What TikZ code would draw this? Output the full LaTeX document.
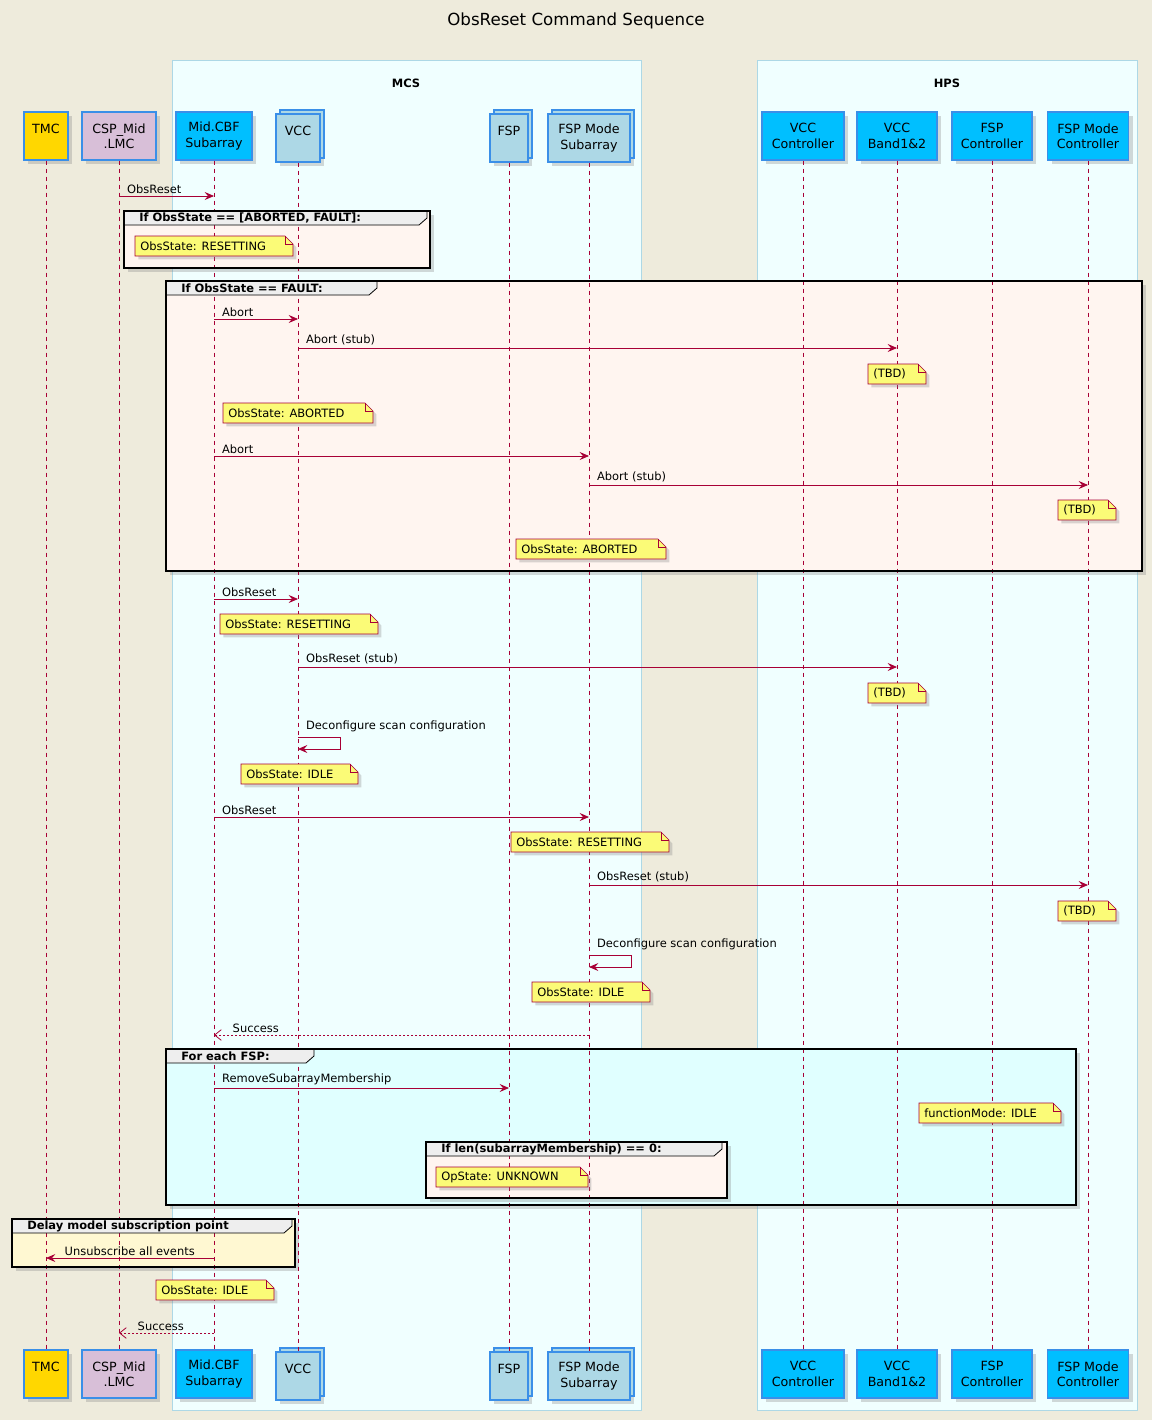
\documentclass[tikz,border=0pt]{standalone}
\usepackage{fontspec}
\setmainfont{DejaVu Sans}
\usetikzlibrary{arrows.meta,shadows}
\definecolor{bgcol}{HTML}{EEEBDC}
\definecolor{boxfill}{HTML}{F0FFFF}
\definecolor{boxline}{HTML}{ADD8E6}
\definecolor{msgcol}{HTML}{A80036}
\definecolor{notefill}{HTML}{FBFB77}
\definecolor{partline}{HTML}{3A8FE8}
\definecolor{iffill}{HTML}{FFF5F0}
\definecolor{eachfill}{HTML}{E0FFFF}
\definecolor{delayfill}{HTML}{FFF8D2}
\definecolor{tabfill}{HTML}{EEEEEE}
\definecolor{lightblue}{HTML}{ADD8E6}
\definecolor{deepsky}{HTML}{00BFFF}
\definecolor{tmcgold}{HTML}{FFD700}
\definecolor{thistle}{HTML}{D8BFD8}

\tikzset{
  part/.style={draw=partline,line width=0.9pt,minimum height=36pt,inner sep=1pt,align=center,
    font=\fontsize{9.5}{11.5}\selectfont,drop shadow={opacity=0.3,shadow xshift=3pt,shadow yshift=-3pt}},
  coll/.style={part,fill=lightblue,copy shadow={shadow xshift=3pt,shadow yshift=3pt}},
  life/.style={msgcol,dash pattern=on 3pt off 3pt,line width=0.5pt},
  msg/.style={msgcol,line width=0.6pt,-{Stealth[length=7pt,width=6pt,inset=2.5pt]}},
  reply/.style={msgcol,line width=0.6pt,dash pattern=on 1.5pt off 1.5pt,-{Straight Barb[length=5pt,width=8pt]}},
  lbl/.style={text=black,font=\fontsize{8.6}{10}\selectfont,inner sep=0.75pt},
  note/.style={draw=msgcol,fill=notefill,line width=0.5pt,drop shadow={opacity=0.3,shadow xshift=2.5pt,shadow yshift=-2.5pt}},
  grp/.style={draw=black,line width=1.3pt,drop shadow={opacity=0.3,shadow xshift=3pt,shadow yshift=-3pt}},
  grptab/.style={draw=black,fill=tabfill,line width=0.6pt},
}

\newcounter{lblc}
% message left to right, label near the start
\newcommand\msgr[4]{\stepcounter{lblc}%
  \draw[msg] (#1|-0,#3) node[lbl,anchor=south west,xshift=5pt,yshift=1pt] (m\thelblc) {#4} -- (#2|-0,#3);}
% message right to left, label near the head
\newcommand\msgl[5][msg]{\stepcounter{lblc}%
  \draw[#1] (#2|-0,#4) -- (#3|-0,#4) node[lbl,anchor=south west,xshift=13pt,yshift=1pt] (m\thelblc) {#5};}
% self message
\newcommand\msgself[4]{\stepcounter{lblc}%
  \draw[msg] (#1|-0,#2) node[lbl,anchor=south west,xshift=5pt,yshift=3pt] (m\thelblc) {#4}
    -- ++(42,0) -- ++(0,#3-#2) -- (#1|-0,#3);}
% note: name, x1, y1, x2, y2, text
\newcommand\note[6]{%
  \draw[note] (#2,#3) -- (#4-8,#3) -- (#4,#3+8) -- (#4,#5) -- (#2,#5) -- cycle;
  \draw[msgcol,line width=0.5pt] (#4-8,#3) -- (#4-8,#3+8) -- (#4,#3+8);
  \node[lbl,anchor=west] (#1) at (#2+4,{(#3+#5)/2}) {#6};}
% group frame: x1, y1, x2, y2, fill
\newcommand\grp[5]{\draw[grp,fill=#5] (#1,#2) rectangle (#3,#4);}
% group tab: name, x1, y1, x2, y2, label, tab width
\newcommand\grptab[7]{%
  \draw[grptab] (#2,#3) -- (#2+#7,#3) -- (#2+#7,#3+7) -- (#2+#7-8,#3+14) -- (#2,#3+14) -- cycle;
  \draw[black,line width=1.3pt] (#2,#3) rectangle (#4,#5);
  \node[lbl,font=\fontsize{8.6}{10}\selectfont\bfseries,anchor=west] (#1) at (#2+14,#3+7) {#6};}

\begin{document}
\begin{tikzpicture}[x=0.75pt,y=0.75pt,yscale=-1,xscale=1]
\useasboundingbox[fill=bgcol] (0,0) rectangle (1152,1420);
\node[font=\fontsize{12.5}{14}\selectfont] (title) at (576,21) {ObsReset Command Sequence};

% boxes
\draw[boxline,fill=boxfill] (172,60) rectangle (641,1410);
\draw[boxline,fill=boxfill] (757,60) rectangle (1137,1410);
\node[lbl,font=\fontsize{8.6}{10}\selectfont\bfseries] (mcs) at (406,83) {MCS};
\node[lbl,font=\fontsize{8.6}{10}\selectfont\bfseries] (hps) at (947,83) {HPS};

% participants top and bottom
\foreach \nm/\yy in {/136,B/1374}{
  \node[part,fill=tmcgold,minimum width=33pt] (tmc\nm) at (46,\yy) {TMC\\\mbox{}};
  \node[part,fill=thistle,minimum width=55.5pt] (csp\nm) at (119,\yy) {CSP\_Mid\\.LMC};
  \node[part,fill=deepsky,minimum width=57pt] (mid\nm) at (214,\yy) {Mid.CBF\\Subarray};
  \node[coll,minimum width=33pt] (vcc\nm) at (298,\yy+2) {VCC\\\mbox{}};
  \node[coll,minimum width=28.5pt] (fsp\nm) at (509,\yy+2) {FSP\\\mbox{}};
  \node[coll,minimum width=61.5pt] (fspm\nm) at (589,\yy+2) {FSP Mode\\Subarray};
  \node[part,fill=deepsky,minimum width=61.5pt] (vccc\nm) at (803,\yy) {VCC\\Controller};
  \node[part,fill=deepsky,minimum width=60pt] (vccb\nm) at (897,\yy) {VCC\\Band1\&2};
  \node[part,fill=deepsky,minimum width=60pt] (fspc\nm) at (992,\yy) {FSP\\Controller};
  \node[part,fill=deepsky,minimum width=60.75pt] (fspmc\nm) at (1088,\yy) {FSP Mode\\Controller};
}

% group frames
\grp{124}{211}{430}{268}{iffill}
\grp{166}{281}{1142}{571}{iffill}
\grp{166}{1049}{1076}{1205}{eachfill}
\grp{426}{1142}{727}{1198}{iffill}
\grp{12}{1219}{295}{1267}{delayfill}

% lifelines
\foreach \p in {tmc,csp,mid,vcc,fsp,fspm,vccc,vccb,fspc,fspmc}
  \draw[life] (\p) -- (\p B);

% group tabs
\grptab{g1}{124}{211}{430}{268}{If ObsState == [ABORTED, FAULT]:}{303}
\grptab{g2}{166}{281}{1142}{571}{If ObsState == FAULT:}{211}
\grptab{g3}{166}{1049}{1076}{1205}{For each FSP:}{148}
\grptab{g4}{426}{1142}{727}{1198}{If len(subarrayMembership) == 0:}{296}
\grptab{g5}{12}{1219}{295}{1267}{Delay model subscription point}{280}

\msgr{csp}{mid}{196}{ObsReset}
\note{n1}{135}{236}{293}{256}{ObsState: RESETTING}

\msgr{mid}{vcc}{319}{Abort}
\msgr{vcc}{vccb}{348}{Abort (stub)}
\note{n2}{868}{364}{926}{384}{(TBD)}
\note{n3}{223}{403}{373}{423}{ObsState: ABORTED}
\msgr{mid}{fspm}{456}{Abort}
\msgr{fspm}{fspmc}{485}{Abort (stub)}
\note{n4}{1058}{500}{1116}{520}{(TBD)}
\note{n5}{516}{539}{666}{559}{ObsState: ABORTED}

\msgr{mid}{vcc}{599}{ObsReset}
\note{n6}{220}{614}{378}{634}{ObsState: RESETTING}
\msgr{vcc}{vccb}{667}{ObsReset (stub)}
\note{n7}{868}{683}{926}{703}{(TBD)}
\msgself{vcc}{737}{749}{Deconfigure scan configuration}
\note{n8}{241}{764}{358}{784}{ObsState: IDLE}
\msgr{mid}{fspm}{817}{ObsReset}
\note{n9}{511}{832}{669}{852}{ObsState: RESETTING}
\msgr{fspm}{fspmc}{885}{ObsReset (stub)}
\note{n10}{1058}{901}{1116}{921}{(TBD)}
\msgself{fspm}{955}{967}{Deconfigure scan configuration}
\note{n11}{532}{982}{650}{1002}{ObsState: IDLE}
\msgl[reply]{fspm}{mid}{1035}{Success}

\msgr{mid}{fsp}{1088}{RemoveSubarrayMembership}
\note{n12}{919}{1103}{1061}{1123}{functionMode: IDLE}
\note{n13}{436}{1167}{588}{1187}{OpState: UNKNOWN}

\msgl{mid}{tmc}{1258}{Unsubscribe all events}
\note{n14}{156}{1280}{274}{1300}{ObsState: IDLE}
\msgl[reply]{mid}{csp}{1333}{Success}
\end{tikzpicture}
\end{document}
